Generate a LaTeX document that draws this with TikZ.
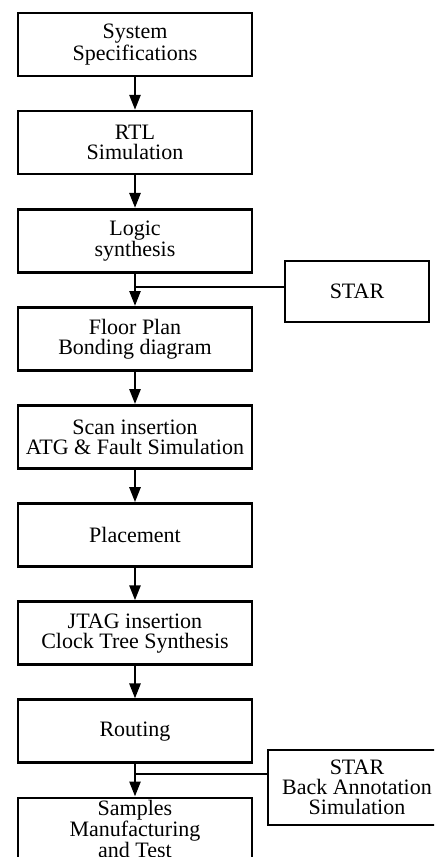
\documentclass[tikz,border=0pt]{standalone}
\usepackage{fontspec}
\setmainfont{Liberation Serif}
\usetikzlibrary{arrows.meta}

\begin{document}
\begin{tikzpicture}[x=1pt, y=-1pt, line width=2.6pt,
  stage/.style={draw, minimum width=234pt, minimum height=63pt, align=center,
    inner sep=1pt, font=\fontsize{22}{20}\selectfont},
  tool/.style={stage, minimum width=144pt, minimum height=61pt},
  flow/.style={-{Triangle[length=15pt,width=11pt]}}]
  \clip (0,0) rectangle (434,857);
  % design flow
  \node[stage] (spec)   at (135,44.5)  {System\\Specifications};
  \node[stage] (rtl)    at (135,142.6) {RTL\\Simulation};
  \node[stage] (synth)  at (135,240.7) {Logic\\synthesis};
  \node[stage] (floor)  at (135,338.8) {Floor Plan\\Bonding diagram};
  \node[stage] (scan)   at (135,436.9) {Scan insertion\\ATG \& Fault Simulation};
  \node[stage] (place)  at (135,535)   {Placement};
  \node[stage] (jtag)   at (135,633.1) {JTAG insertion\\Clock Tree Synthesis};
  \node[stage] (route)  at (135,731.2) {Routing};
  \node[stage] (sample) at (135,829.3) {Samples\\Manufacturing\\and Test};
  % arrows
  \draw[flow] (spec)  -- (rtl);
  \draw[flow] (rtl)   -- (synth);
  \draw[flow] (synth) -- (floor);
  \draw[flow] (floor) -- (scan);
  \draw[flow] (scan)  -- (place);
  \draw[flow] (place) -- (jtag);
  \draw[flow] (jtag)  -- (route);
  \draw[flow] (route) -- (sample);
  % STAR checks
  \node[tool] (star1) at (357,291.5) {STAR};
  \node[tool, minimum width=178pt, minimum height=75pt] (star2) at (357,787.5)
    {STAR\\Back Annotation\\Simulation};
  \coordinate (tap1) at (135,287);
  \coordinate (tap2) at (135,774);
  \draw (tap1) -- (tap1 -| star1.west);
  \draw (tap2) -- (tap2 -| star2.west);
\end{tikzpicture}
\end{document}
